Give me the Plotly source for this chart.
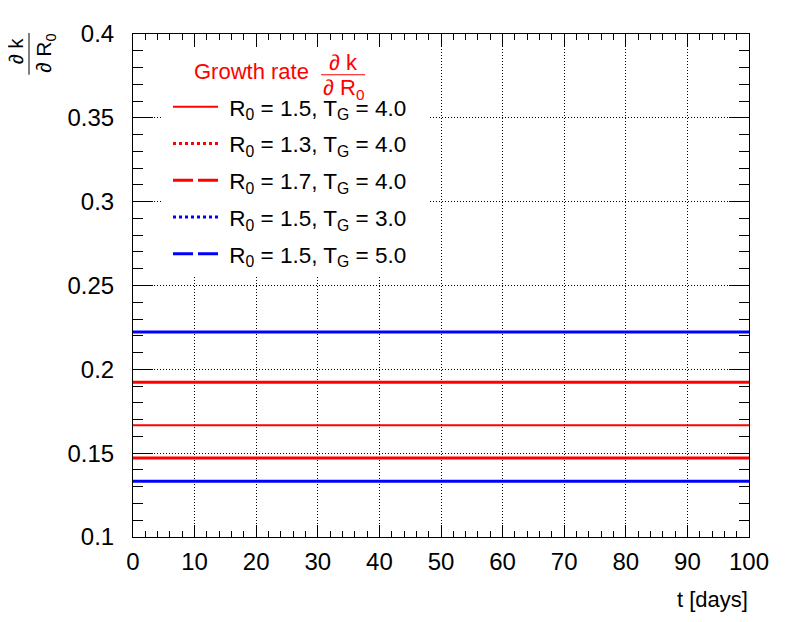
"""Growth-rate sensitivity dk/dR0 for a few (R0, T_G) choices."""
import plotly.graph_objects as go

# time axis (days) and the constant dk/dR0 of each curve
t_days = [0, 100]
labels = [
    "R<sub>0</sub> = 1.5, T<sub>G</sub> = 4.0",
    "R<sub>0</sub> = 1.3, T<sub>G</sub> = 4.0",
    "R<sub>0</sub> = 1.7, T<sub>G</sub> = 4.0",
    "R<sub>0</sub> = 1.5, T<sub>G</sub> = 3.0",
    "R<sub>0</sub> = 1.5, T<sub>G</sub> = 5.0",
]
dk_dr0 = [0.1667, 0.1923, 0.1471, 0.2222, 0.1333]
colors = ["#ff0000", "#ff0000", "#ff0000", "#0000ff", "#0000ff"]
dashes = ["solid", "3px,3px", "20px,5px", "3px,3px", "20px,5px"]
widths = [2, 3, 3, 3, 3]

FONT = "Liberation Sans, Arial, sans-serif"

fig = go.Figure()

for i, (lab, val) in enumerate(zip(labels, dk_dr0)):
    # ROOT draws the many short segments solid, so the curve itself is solid
    fig.add_trace(go.Scatter(
        x=t_days, y=[val] * len(t_days), mode="lines",
        line=dict(color=colors[i], width=widths[i]),
        showlegend=False, hoverinfo="skip",
    ))
    # legend sample keeps the dash style
    fig.add_trace(go.Scatter(
        x=[None], y=[None], mode="lines", name="\u00a0" + lab,
        line=dict(color=colors[i], width=widths[i], dash=dashes[i]),
        legendgroup=f"g{i}",
    ))

axis_common = dict(
    showline=True, linecolor="black", linewidth=1, mirror="allticks",
    ticks="inside", tickcolor="black", tickwidth=1,
    showgrid=True, gridcolor="black", gridwidth=1, griddash="1px,2px",
    zeroline=False,
    tickfont=dict(family=FONT, size=24, color="black"),
)

fig.update_xaxes(
    range=[0, 100], dtick=10, tick0=0, ticklen=12,
    minor=dict(dtick=2, ticklen=6, ticks="inside", tickcolor="black",
               showgrid=False),
    ticklabelstandoff=3,
    **axis_common,
)
fig.update_yaxes(
    range=[0.1, 0.4], dtick=0.05, tick0=0.1, ticklen=20,
    minor=dict(dtick=0.01, ticklen=10, ticks="inside", tickcolor="black",
               showgrid=False),
    ticklabelstandoff=13,
    **axis_common,
)

# the page adds an 8px body margin, so the figure is 8px smaller
OFF = 8
W, H = 796 - OFF, 622 - OFF
L, R, T, B = 133 - OFF, 47, 31 - OFF, 85
pw, ph = W - L - R, H - T - B


def px(xp):
    # screen pixel -> paper fraction
    return (xp - OFF - L) / pw


def py(yp):
    return (H - B - (yp - OFF)) / ph


# white legend box hides the grid behind it
fig.add_shape(type="rect", xref="paper", yref="paper",
              x0=px(162), x1=px(429), y0=py(275), y1=py(44),
              fillcolor="white", line_width=0, layer="above")


def note(text, x, y, size, color="black", angle=0, **kw):
    return dict(text=text, x=px(x), y=py(y), xref="paper", yref="paper",
                xanchor="center", yanchor="middle", showarrow=False,
                textangle=angle, font=dict(family=FONT, size=size, color=color),
                **kw)


ann = [
    note("t [days]", 712, 600, 22),
    # y title: dk / dR0 rotated
    note("∂ k", 16, 48, 20, angle=-90),
    note("∂ R<sub>0</sub>", 45, 50, 21, angle=-90),
    # legend header
    note("Growth rate", 251, 69, 22, color="red"),
    note("∂ k", 343, 60, 22, color="red"),
    note("∂ R<sub>0</sub>", 343, 86, 22, color="red"),
]
fig.add_shape(type="line", xref="paper", yref="paper",
              x0=px(29), x1=px(29), y0=py(30), y1=py(72),
              line=dict(color="black", width=1))
fig.add_shape(type="line", xref="paper", yref="paper",
              x0=px(321), x1=px(365), y0=py(72), y1=py(72),
              line=dict(color="red", width=1))

fig.update_layout(
    width=W, height=H,
    margin=dict(l=L, r=R, t=T, b=B, pad=0),
    paper_bgcolor="white", plot_bgcolor="white",
    font=dict(family=FONT, color="black"),
    annotations=ann,
    legend=dict(
        x=px(168), y=py(83), xanchor="left", yanchor="top",
        bgcolor="rgba(0,0,0,0)", borderwidth=0,
        font=dict(family=FONT, size=22.5, color="black"),
        itemwidth=45, tracegroupgap=4.5, traceorder="grouped",
    ),
)

fig.write_html("out.html")
